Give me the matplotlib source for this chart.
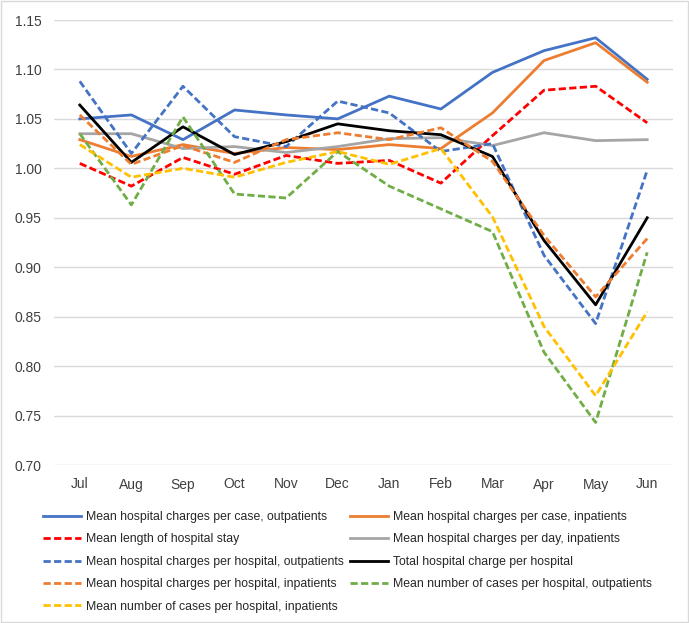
import matplotlib
matplotlib.use("Agg")
import matplotlib.pyplot as plt

plt.rcParams["font.family"] = ["Liberation Sans", "DejaVu Sans"]

months = ["Jul", "Aug", "Sep", "Oct", "Nov", "Dec", "Jan", "Feb", "Mar", "Apr", "May", "Jun"]

# index values per month
charge_case_out = [1.050, 1.054, 1.029, 1.059, 1.054, 1.050, 1.073, 1.060, 1.097, 1.119, 1.132, 1.090]
charge_case_in = [1.029, 1.012, 1.024, 1.015, 1.021, 1.019, 1.024, 1.020, 1.056, 1.109, 1.127, 1.087]
length_of_stay = [1.005, 0.982, 1.011, 0.994, 1.013, 1.005, 1.008, 0.985, 1.033, 1.079, 1.083, 1.046]
charge_day_in = [1.035, 1.035, 1.020, 1.022, 1.016, 1.022, 1.030, 1.031, 1.023, 1.036, 1.028, 1.029]
charge_hosp_out = [1.088, 1.015, 1.083, 1.032, 1.022, 1.068, 1.056, 1.017, 1.025, 0.912, 0.843, 0.998]
total_charge_hosp = [1.064, 1.006, 1.042, 1.014, 1.027, 1.045, 1.038, 1.034, 1.012, 0.927, 0.862, 0.950]
charge_hosp_in = [1.054, 1.004, 1.023, 1.006, 1.029, 1.036, 1.029, 1.041, 1.007, 0.932, 0.870, 0.929]
cases_hosp_out = [1.035, 0.963, 1.052, 0.974, 0.970, 1.017, 0.982, 0.959, 0.936, 0.814, 0.743, 0.915]
cases_hosp_in = [1.024, 0.991, 1.000, 0.991, 1.006, 1.017, 1.004, 1.020, 0.951, 0.840, 0.770, 0.855]

series = [
    ("Mean hospital charges per case, outpatients", charge_case_out, "#4472C4", "-"),
    ("Mean hospital charges per case, inpatients", charge_case_in, "#ED7D31", "-"),
    ("Mean length of hospital stay", length_of_stay, "#FF0000", "--"),
    ("Mean hospital charges per day, inpatients", charge_day_in, "#A5A5A5", "-"),
    ("Mean hospital charges per hospital, outpatients", charge_hosp_out, "#4472C4", "--"),
    ("Total hospital charge per hospital", total_charge_hosp, "#000000", "-"),
    ("Mean hospital charges per hospital, inpatients", charge_hosp_in, "#ED7D31", "--"),
    ("Mean number of cases per hospital, outpatients", cases_hosp_out, "#70AD47", "--"),
    ("Mean number of cases per hospital, inpatients", cases_hosp_in, "#FFC000", "--"),
]

fig = plt.figure(figsize=(6.89, 6.23), dpi=100)
ax = fig.add_axes([54 / 689, 1 - 465 / 623, (673 - 54) / 689, (465 - 20) / 623])

x = list(range(len(months)))
handles = []
for label, vals, color, ls in series:
    if ls == "--":
        h, = ax.plot(x, vals, color=color, lw=2, dashes=(2.6, 1.2), label=label)
    else:
        h, = ax.plot(x, vals, color=color, lw=2, label=label)
    handles.append(h)

ax.set_ylim(0.70, 1.15)
ax.set_xlim(-0.5, len(months) - 0.5)
ax.set_yticks([0.70 + 0.05 * i for i in range(10)])
ax.yaxis.set_major_formatter(plt.FuncFormatter(lambda v, _: f"{v:.2f}"))
ax.set_xticks(x)
ax.set_xticklabels(months)
ax.tick_params(length=0, labelsize=10, colors="#404040", pad=9)
ax.grid(axis="y", color="#D9D9D9", lw=1)
ax.set_axisbelow(True)
for spine in ax.spines.values():
    spine.set_visible(False)

order = [0, 2, 4, 6, 8, 1, 3, 5, 7]
fig.legend([handles[i] for i in order], [series[i][0] for i in order],
           loc="upper left", bbox_to_anchor=(43 / 689, 1 - 511 / 623), ncol=2,
           frameon=False, fontsize=8.8, handlelength=3.1, handletextpad=0.4,
           columnspacing=0.5, labelspacing=0.85, borderaxespad=0, borderpad=0,
           labelcolor="#262626")

fig.patches.append(plt.Rectangle((0.001, 0.001), 0.998, 0.998, transform=fig.transFigure,
                                 fill=False, edgecolor="#D9D9D9", lw=1))

fig.savefig("out.png", dpi=100)
